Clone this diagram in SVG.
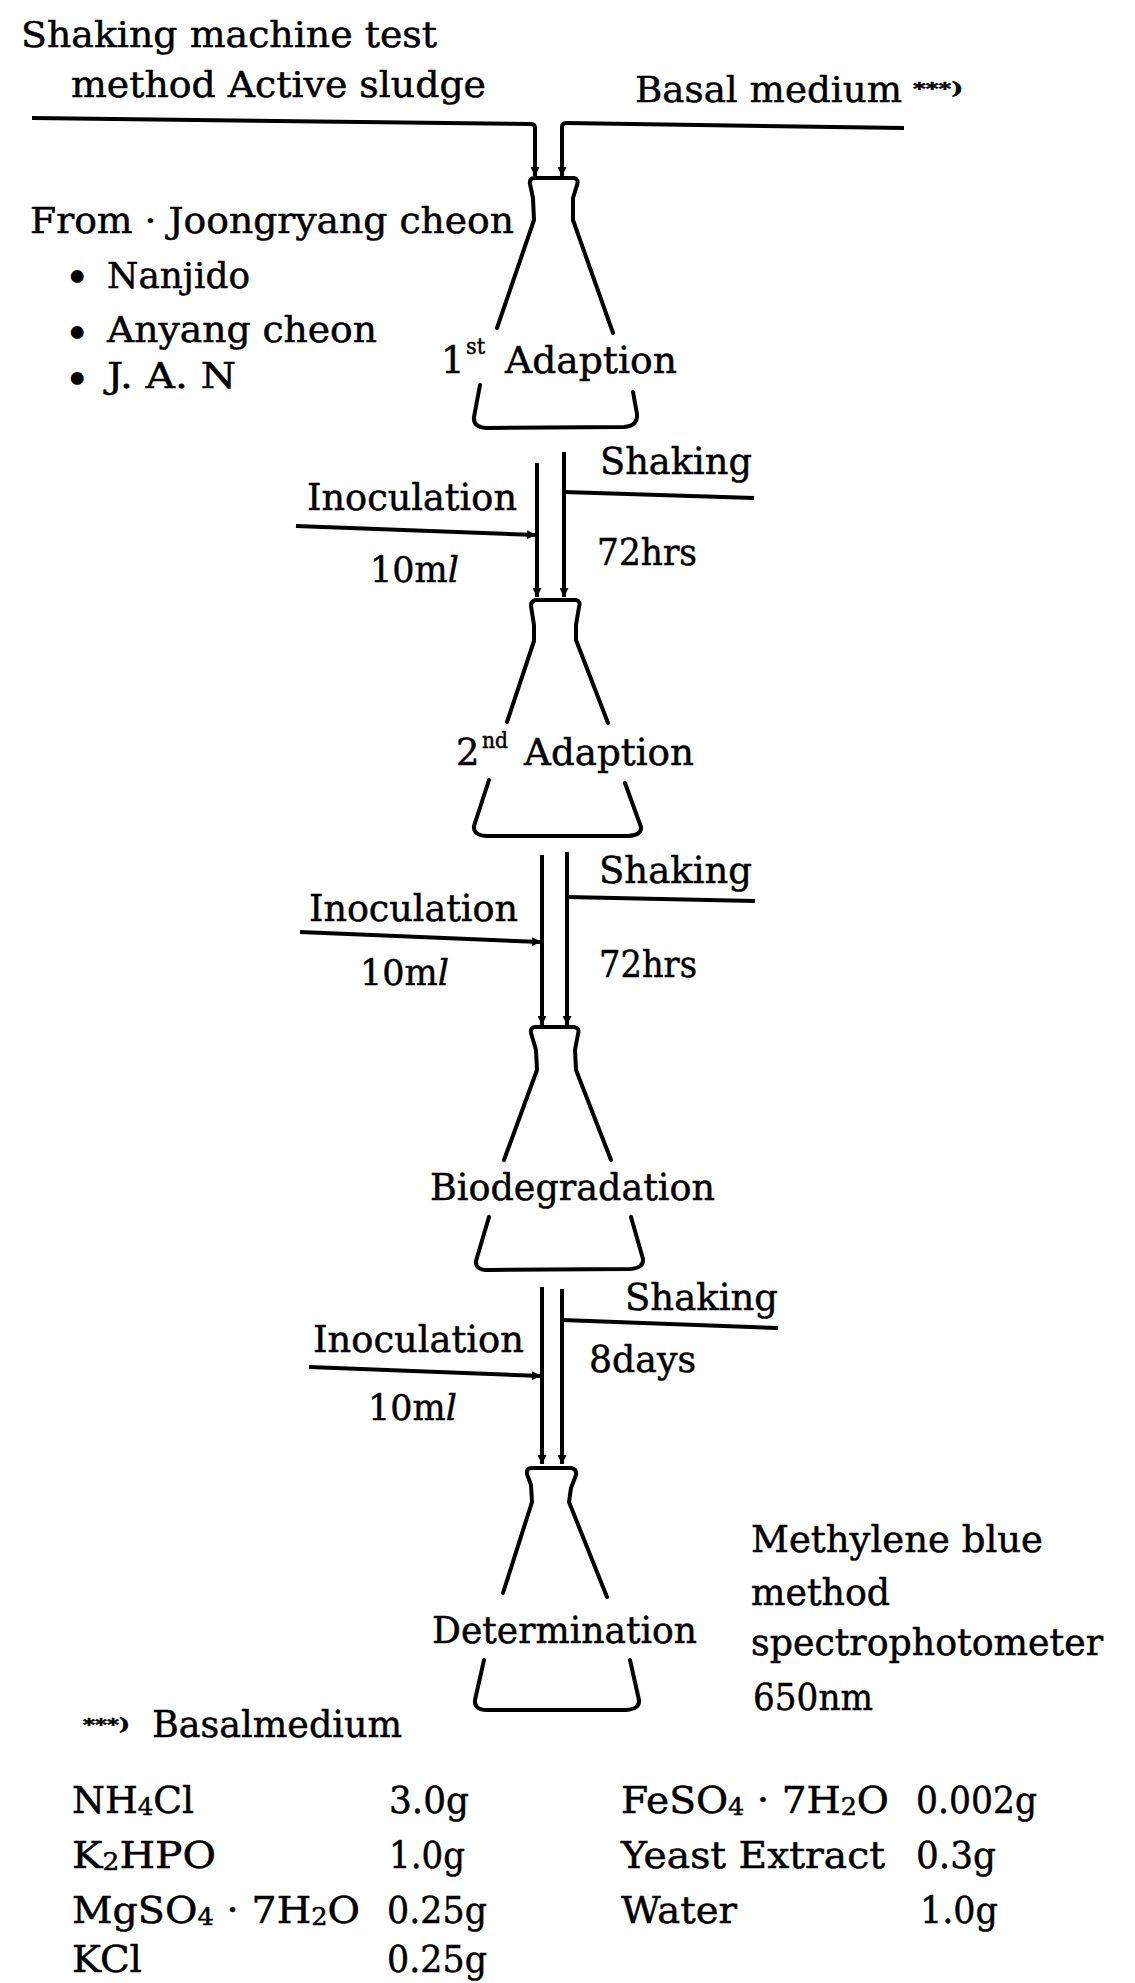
<svg xmlns="http://www.w3.org/2000/svg" width="1135" height="1983" viewBox="0 0 1135 1983">
<style>
.t{font-family:"DejaVu Serif","Liberation Serif",serif;font-size:37px;fill:#000;stroke:#000;stroke-width:0.5}
.h{font-size:35px}
.ml{font-size:35px}
.sup{font-size:22px}
.sub{font-size:24px}
.ast{font-size:16px;font-weight:bold}
.bul{font-size:38px;stroke-width:1.8}
.ln{fill:none;stroke:#000;stroke-width:4;stroke-linejoin:round}
.fl{fill:none;stroke:#000;stroke-width:4;stroke-linejoin:round;stroke-linecap:round}
</style>
<defs>
<marker id="ah" viewBox="0 0 10 10" refX="10" refY="5" markerWidth="9" markerHeight="9" markerUnits="userSpaceOnUse" orient="auto"><path d="M0,0 L10,5 L0,10 z" fill="#000"/></marker>
</defs>
<rect width="1135" height="1983" fill="#fff"/>

<g id="header">
<text class="t h" x="21" y="47" textLength="416" lengthAdjust="spacingAndGlyphs">Shaking machine test</text>
<text class="t h" x="71" y="97" textLength="415" lengthAdjust="spacingAndGlyphs">method Active sludge</text>
<text class="t h" x="635" y="102" textLength="267" lengthAdjust="spacingAndGlyphs">Basal medium</text>
<text class="t ast" x="913" y="94" textLength="50" lengthAdjust="spacingAndGlyphs">***)</text>
</g>

<g id="sources">
<text class="t h" x="30" y="233" textLength="484" lengthAdjust="spacingAndGlyphs">From · Joongryang cheon</text>
<text class="t bul" x="66" y="290">•</text>
<text class="t h" x="107" y="288" textLength="143" lengthAdjust="spacingAndGlyphs">Nanjido</text>
<text class="t bul" x="66" y="346">•</text>
<text class="t h" x="107" y="342" textLength="270" lengthAdjust="spacingAndGlyphs">Anyang cheon</text>
<text class="t bul" x="66" y="392">•</text>
<text class="t h" x="107" y="388" textLength="129" lengthAdjust="spacingAndGlyphs">J. A. N</text>
</g>

<g id="connectors">
<path class="ln" d="M32,118 L531,124 Q535,124 535,128 L535,176" marker-end="url(#ah)"/>
<path class="ln" d="M904,128 L566,123 Q562,123 562,127 L562,176" marker-end="url(#ah)"/>
<path class="ln" d="M537,463 L537,597" marker-end="url(#ah)"/>
<path class="ln" d="M564,452 L564,597" marker-end="url(#ah)"/>
<path class="ln" d="M296,526 L536,535" marker-end="url(#ah)"/>
<path class="ln" d="M564,492 L754,498"/>
<path class="ln" d="M542,855 L542,1025" marker-end="url(#ah)"/>
<path class="ln" d="M567,852 L567,1025" marker-end="url(#ah)"/>
<path class="ln" d="M300,932 L541,942" marker-end="url(#ah)"/>
<path class="ln" d="M567,897 L755,901"/>
<path class="ln" d="M542,1287 L542,1464" marker-end="url(#ah)"/>
<path class="ln" d="M562,1289 L562,1464" marker-end="url(#ah)"/>
<path class="ln" d="M309,1367 L541,1376" marker-end="url(#ah)"/>
<path class="ln" d="M562,1320 L778,1328"/>
</g>

<g id="step1-labels">
<text class="t" x="307" y="510" textLength="210" lengthAdjust="spacingAndGlyphs">Inoculation</text>
<text class="t ml" x="370" y="582">10m<tspan font-style="italic">l</tspan></text>
<text class="t" x="600" y="474" textLength="152" lengthAdjust="spacingAndGlyphs">Shaking</text>
<text class="t" x="597" y="565" textLength="100" lengthAdjust="spacingAndGlyphs">72hrs</text>
</g>

<g id="step2-labels">
<text class="t" x="309" y="921" textLength="209" lengthAdjust="spacingAndGlyphs">Inoculation</text>
<text class="t ml" x="360" y="985">10m<tspan font-style="italic">l</tspan></text>
<text class="t" x="599" y="883" textLength="153" lengthAdjust="spacingAndGlyphs">Shaking</text>
<text class="t" x="599" y="977" textLength="98" lengthAdjust="spacingAndGlyphs">72hrs</text>
</g>

<g id="step3-labels">
<text class="t" x="313" y="1352" textLength="211" lengthAdjust="spacingAndGlyphs">Inoculation</text>
<text class="t ml" x="368" y="1420">10m<tspan font-style="italic">l</tspan></text>
<text class="t" x="625" y="1310" textLength="153" lengthAdjust="spacingAndGlyphs">Shaking</text>
<text class="t" x="589" y="1372" textLength="107" lengthAdjust="spacingAndGlyphs">8days</text>
</g>

<g id="flask-1st-adaption">
<path class="fl" d="M497,328 L534,220 L533,198 L530,184 Q529,178 535,178 L574,178 Q579,179 577,185 L573,198 L573,220 L613,333"/>
<path class="fl" d="M480,385 L474,417 Q473,427 486,428 L624,427 Q638,426 637,414 L633,392"/>
<text class="t" x="441" y="373">1</text>
<text class="t sup" x="466" y="354" textLength="19" lengthAdjust="spacingAndGlyphs">st</text>
<text class="t" x="505" y="373" textLength="172" lengthAdjust="spacingAndGlyphs">Adaption</text>
</g>

<g id="flask-2nd-adaption">
<path class="fl" d="M507,722 L534,641 L534,625 L531,606 Q531,600 537,600 L576,600 Q581,601 579,607 L576,625 L576,640 L608,723"/>
<path class="fl" d="M489,780 L474,826 Q473,835 486,836 L628,836 Q642,835 641,827 L625,783"/>
<text class="t" x="456" y="765">2</text>
<text class="t sup" x="482" y="748" textLength="26" lengthAdjust="spacingAndGlyphs">nd</text>
<text class="t" x="524" y="765" textLength="170" lengthAdjust="spacingAndGlyphs">Adaption</text>
</g>

<g id="flask-biodegradation">
<path class="fl" d="M504,1160 L537,1070 L536,1050 L531,1033 Q530,1027 536,1027 L574,1027 Q580,1028 578,1034 L575,1050 L576,1070 L611,1160"/>
<path class="fl" d="M489,1217 L476,1261 Q475,1270 488,1270 L630,1269 Q644,1268 643,1259 L631,1217"/>
<text class="t" x="430" y="1200" textLength="285" lengthAdjust="spacingAndGlyphs">Biodegradation</text>
</g>

<g id="flask-determination">
<path class="fl" d="M503,1593 L532,1502 L531,1485 L527,1474 Q526,1468 532,1468 L571,1468 Q577,1469 576,1475 L571,1488 L569,1502 L607,1597"/>
<path class="fl" d="M484,1660 L475,1700 Q474,1710 487,1710 L626,1710 Q640,1709 639,1700 L630,1660"/>
<text class="t" x="432" y="1643" textLength="265" lengthAdjust="spacingAndGlyphs">Determination</text>
</g>

<g id="method-note">
<text class="t" x="751" y="1552" textLength="292" lengthAdjust="spacingAndGlyphs">Methylene blue</text>
<text class="t" x="751" y="1605" textLength="139" lengthAdjust="spacingAndGlyphs">method</text>
<text class="t" x="751" y="1655" textLength="352" lengthAdjust="spacingAndGlyphs">spectrophotometer</text>
<text class="t" x="753" y="1710" textLength="120" lengthAdjust="spacingAndGlyphs">650nm</text>
</g>

<g id="basal-medium-table">
<text class="t ast" x="83" y="1730" textLength="47" lengthAdjust="spacingAndGlyphs">***)</text>
<text class="t" x="152" y="1737" textLength="250" lengthAdjust="spacingAndGlyphs">Basalmedium</text>

<text class="t" x="72" y="1813" textLength="122" lengthAdjust="spacingAndGlyphs">NH<tspan class="sub" dy="2">4</tspan><tspan dy="-2">Cl</tspan></text>
<text class="t" x="389" y="1813" textLength="80" lengthAdjust="spacingAndGlyphs">3.0g</text>
<text class="t" x="621" y="1813" textLength="268" lengthAdjust="spacingAndGlyphs">FeSO<tspan class="sub" dy="2">4</tspan><tspan dy="-2"> · 7H</tspan><tspan class="sub" dy="2">2</tspan><tspan dy="-2">O</tspan></text>
<text class="t" x="916" y="1813" textLength="121" lengthAdjust="spacingAndGlyphs">0.002g</text>

<text class="t" x="72" y="1868" textLength="144" lengthAdjust="spacingAndGlyphs">K<tspan class="sub" dy="2">2</tspan><tspan dy="-2">HPO</tspan></text>
<text class="t" x="389" y="1868" textLength="76" lengthAdjust="spacingAndGlyphs">1.0g</text>
<text class="t" x="621" y="1868" textLength="264" lengthAdjust="spacingAndGlyphs">Yeast Extract</text>
<text class="t" x="916" y="1868" textLength="80" lengthAdjust="spacingAndGlyphs">0.3g</text>

<text class="t" x="72" y="1923" textLength="288" lengthAdjust="spacingAndGlyphs">MgSO<tspan class="sub" dy="2">4</tspan><tspan dy="-2"> · 7H</tspan><tspan class="sub" dy="2">2</tspan><tspan dy="-2">O</tspan></text>
<text class="t" x="387" y="1923" textLength="100" lengthAdjust="spacingAndGlyphs">0.25g</text>
<text class="t" x="621" y="1923" textLength="116" lengthAdjust="spacingAndGlyphs">Water</text>
<text class="t" x="920" y="1923" textLength="78" lengthAdjust="spacingAndGlyphs">1.0g</text>

<text class="t" x="72" y="1972" textLength="70" lengthAdjust="spacingAndGlyphs">KCl</text>
<text class="t" x="387" y="1972" textLength="100" lengthAdjust="spacingAndGlyphs">0.25g</text>
</g>
</svg>
